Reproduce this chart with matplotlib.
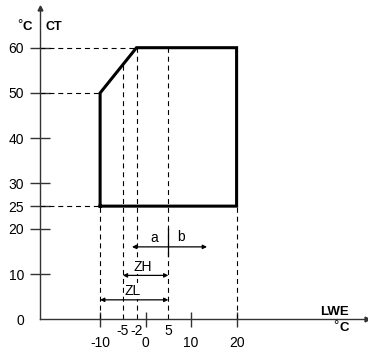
import numpy as np
import matplotlib
matplotlib.use('Agg')
import matplotlib.pyplot as plt

plt.rcParams['font.family'] = ['Liberation Sans', 'DejaVu Sans']

# 运行范围包络线 (LWE, CT)
env_x = [-10, -10, -2, 20, 20, -10]
env_y = [25, 50, 60, 60, 25, 25]

# 辅助虚线
hline_y = [60, 50, 25]
hline_to_x = [-2, -10, -10]
vline_x = [-10, -5, -2, 5, 20]

# 刻度
y_ticks = [0, 10, 20, 25, 30, 40, 50, 60]
x_ticks_low = [-10, 0, 10, 20]
x_ticks_high = [-5, -2, 5]

# 区间箭头 (左端, 右端, 高度)
zone_names = ['ZH', 'ZL']
zone_left = [-5, -10]
zone_right = [5, 5]
zone_y = [9.7, 4.3]
zone_label_x = [-0.6, -2.9]
ab_left, ab_mid, ab_right, ab_y = -3, 5, 13.5, 16.0

fig = plt.figure(figsize=(3.68, 3.49), dpi=100)
ax = fig.add_axes([40 / 368, 29.7 / 349, 327 / 368, 311.3 / 349])
ax.set_xlim(-23.21, 48.66)
ax.set_ylim(0, 68.77)

axis_color = '#333333'
for side in ['top', 'right']:
    ax.spines[side].set_visible(False)
for side in ['left', 'bottom']:
    ax.spines[side].set_color(axis_color)
    ax.spines[side].set_linewidth(1.0)

# 坐标轴箭头
ax.plot(1, 0, '>', color=axis_color, ms=3.5, transform=ax.get_yaxis_transform(), clip_on=False)
ax.plot(0, 1, '^', color=axis_color, ms=3.5, transform=ax.transAxes, clip_on=False)

# 刻度设置
ax.set_yticks(y_ticks)
ax.set_yticklabels([str(v) for v in y_ticks])
ax.tick_params(axis='y', direction='inout', length=13.7, width=1.0, color=axis_color,
               pad=4.7, labelsize=10)
ax.yaxis.get_major_ticks()[0].tick1line.set_visible(False)

ax.set_xticks(x_ticks_low)
ax.set_xticklabels([str(v) for v in x_ticks_low])
ax.set_xticks(x_ticks_high, minor=True)
ax.set_xticklabels([str(v) for v in x_ticks_high], minor=True)
ax.tick_params(axis='x', which='major', direction='inout', length=10.8, width=1.0,
               color=axis_color, pad=6.3, labelsize=10)
ax.tick_params(axis='x', which='minor', direction='inout', length=0, pad=3.4, labelsize=10)

# 虚线
dash = (0, (4.5, 3.5))
for yv, xv in zip(hline_y, hline_to_x):
    ax.plot([ax.get_xlim()[0], xv], [yv, yv], color='black', lw=0.8, linestyle=dash)

# 虚线从包络线边界向下到横轴
slope_top = lambda x: np.interp(x, [-10, -2], [50, 60])
for xv in vline_x:
    if xv in (-10, 20):
        top = 25
    elif xv < -2:
        top = slope_top(xv)
    else:
        top = 60
    ax.plot([xv, xv], [0, top], color='black', lw=0.8, linestyle=dash)

# 包络线
ax.plot(env_x, env_y, color='black', lw=2.2, solid_joinstyle='miter')

# 区间箭头
arrow_kw = dict(arrowstyle='<|-|>', color='black', lw=0.9, mutation_scale=6,
                shrinkA=0, shrinkB=0)
for name, xl, xr, yv, lx in zip(zone_names, zone_left, zone_right, zone_y, zone_label_x):
    ax.annotate('', xy=(xl, yv), xytext=(xr, yv), arrowprops=arrow_kw)
    ax.text(lx, yv + 0.4, name, ha='center', va='bottom', fontsize=10, zorder=5,
            bbox=dict(facecolor='white', edgecolor='none', pad=0.5))

ax.annotate('', xy=(ab_left, ab_y), xytext=(ab_right, ab_y), arrowprops=arrow_kw)
ax.plot([ab_mid, ab_mid], [14.0, 20.2], color='black', lw=0.9)
ax.text(1.8, 18.0, 'a', ha='center', va='center', fontsize=10)
ax.text(7.7, 18.2, 'b', ha='center', va='center', fontsize=10)

# 轴标题
ax.text(-25.0, 64.6, 'C', ha='right', va='center', fontsize=9.5, fontweight='bold', clip_on=False)
ax.text(-27.0, 64.9, '°', ha='right', va='center', fontsize=9.5, clip_on=False)
ax.text(-22.0, 64.6, 'CT', ha='left', va='center', fontsize=9, fontweight='bold', clip_on=False)
ax.text(44.6, 1.6, 'LWE', ha='right', va='center', fontsize=9.5, fontweight='bold', clip_on=False)
ax.text(44.6, -1.9, 'C', ha='right', va='center', fontsize=9.5, fontweight='bold', clip_on=False)
ax.text(42.5, -1.6, '°', ha='right', va='center', fontsize=9.5, clip_on=False)

fig.savefig('out.png', dpi=100)
